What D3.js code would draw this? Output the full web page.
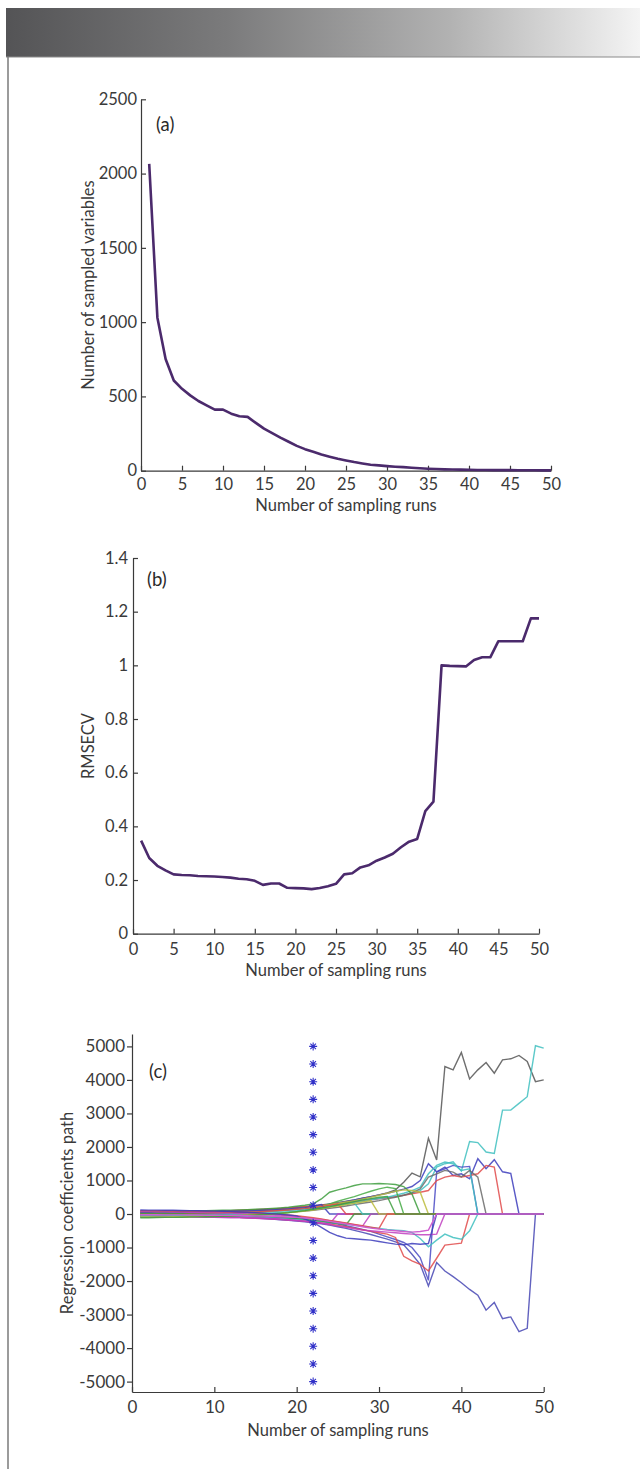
<!DOCTYPE html>
<html>
<head>
<meta charset="utf-8">
<script src="https://cdn.jsdelivr.net/npm/d3@7"></script>
<style>
  body { margin: 0; background: #fff; }
  svg { display: block; font-family: Lato, "Open Sans", sans-serif; }
  .axis path, .axis line { stroke: #3a3a3a; stroke-width: 1.2; }
  .axis text { fill: #3a3a3a; font-family: Lato, "Open Sans", sans-serif; }
  .lbl { fill: #3a3a3a; font-size: 16.5px; }
  .tag { fill: #2a2a2a; font-size: 18.5px; }
</style>
</head>
<body>
<svg id="fig" width="640" height="1469"></svg>
<script>
// sampling run index (x of every panel)
const runs = [1,2,3,4,5,6,7,8,9,10,11,12,13,14,15,16,17,18,19,20,
  21,22,23,24,25,26,27,28,29,30,31,32,33,34,35,36,37,38,39,40,
  41,42,43,44,45,46,47,48,49,50];

// (a) number of sampled variables
const sampledVars = [2065,1030,752,607,551,507,469,440,411,411,
  384,366,362,322,283,253,223,195,167,145,
  127,109,94,80,69,58,49,40,36,31,
  27,24,20,16,13,11,9,8,7,6,
  5,5,4,4,4,3,3,3,2,2];

// (b) RMSECV
const rmsecv = [0.347,0.282,0.253,0.236,0.221,0.219,0.218,0.215,0.214,0.213,
  0.211,0.209,0.205,0.203,0.197,0.182,0.187,0.187,0.171,0.170,
  0.169,0.166,0.170,0.177,0.186,0.221,0.225,0.247,0.255,0.272,
  0.284,0.298,0.322,0.343,0.353,0.457,0.492,1.000,0.998,0.997,
  0.996,1.020,1.030,1.030,1.090,1.090,1.090,1.090,1.175,1.175];

// (c) regression coefficient paths, one array per variable
const pGray1 = [40,45,50,55,55,60,65,70,75,80,85,90,95,105,115,125,140,155,175,195,
  215,240,270,300,340,380,420,470,520,570,630,
  720,950,1220,1110,2260,1610,4400,4300,4820,4030,4300,4520,4200,4600,4630,4730,4550,3950,4000];
const pCyan1 = [-30,-25,-20,-20,-15,-10,-5,0,5,10,15,20,30,40,50,60,75,90,110,130,
  150,180,210,250,290,330,370,410,440,470,500,
  520,560,620,700,900,1400,1500,1560,1280,2160,2130,1850,1810,3100,3100,3300,3500,5020,4950];
const pBlue1 = [20,25,25,30,30,35,40,40,45,50,55,60,70,80,90,100,115,130,150,170,
  190,220,250,290,330,370,420,470,520,570,620,
  680,740,820,1000,1500,1260,1400,1150,1200,1050,1650,1350,1620,1260,1210,0,0,0,0];
const pBlue2 = [-40,-45,-45,-50,-55,-60,-60,-65,-70,-75,-80,-90,-100,-110,-120,-135,-150,-170,-190,-210,
  -230,-260,-290,-330,-380,-430,-490,-550,-610,-680,-750,
  -830,-920,-1200,-1500,-2150,-1450,-1700,-1870,-2050,-2250,-2420,-2870,-2640,-3120,-3070,-3510,-3410,0,0];
const pBlue3 = [-10,-10,-15,-15,-20,-20,-25,-25,-30,-35,-40,-45,-50,-60,-70,-80,-90,-105,-120,-140,
  -160,-190,-220,-260,-300,-350,-400,-460,-520,-600,-680,
  -760,-850,-1000,-1300,-1980,1250,1350,1450,1400,1420,0,0,0,0,0,0,0,0,0];
const pRed1 = [60,60,65,65,70,70,75,80,85,90,95,100,110,120,130,140,150,165,180,200,
  220,240,260,280,300,330,360,390,420,450,480,
  520,560,600,650,700,1000,1100,1150,1100,1150,1200,1450,1400,0,0,0,0,0,0];
const pRed2 = [-60,-60,-60,-65,-65,-70,-70,-75,-80,-85,-90,-95,-100,-110,-120,-130,-140,-155,-170,-190,
  -210,-240,-270,-300,-340,-380,-420,-470,-520,-560,-600,
  -700,-1260,-1400,-1500,-1700,-1320,-930,-900,-870,0,0,0,0,0,0,0,0,0,0];
const pCyan2 = [-20,-20,-25,-25,-30,-30,-35,-40,-45,-50,-55,-60,-65,-75,-85,-95,-110,-125,-140,-160,
  -180,-200,-220,-250,-280,-310,-340,-370,-400,-430,-460,
  -480,-500,-550,-730,-980,-780,-600,-700,-750,-500,0,0,0,0,0,0,0,0,0];
const pCyan3 = [10,10,15,15,20,20,25,30,30,35,40,45,50,55,65,75,85,100,115,130,
  150,170,200,230,260,300,340,380,420,460,500,
  560,620,700,800,1200,1450,1550,1500,1300,1350,0,0,0,0,0,0,0,0,0];
const pGray2 = [-50,-50,-45,-45,-40,-40,-35,-35,-30,-30,-25,-20,-15,-10,0,10,20,35,50,70,
  90,110,140,170,200,240,280,320,360,400,450,
  500,560,640,750,1100,1200,1300,1250,1110,1300,1100,0,0,0,0,0,0,0,0];
const pGreen1 = [80,80,85,85,90,90,95,100,100,105,110,115,120,130,140,150,165,180,200,230,
  260,300,450,650,720,780,850,900,900,910,900,
  880,820,600,0,0,0,0,0,0,0,0,0,0,0,0,0,0,0,0];
const pGreen2 = [-80,-80,-75,-75,-70,-70,-65,-60,-60,-55,-50,-45,-40,-30,-20,-10,0,20,40,70,
  110,160,220,300,380,450,520,600,680,750,800,
  760,0,0,0,0,0,0,0,0,0,0,0,0,0,0,0,0,0,0];
const pOlive1 = [30,30,35,35,40,40,45,45,50,55,60,65,70,75,85,95,105,120,140,160,
  180,210,240,280,320,360,400,450,500,560,620,
  680,720,700,650,0,0,0,0,0,0,0,0,0,0,0,0,0,0,0];
const pMag1 = [-100,-100,-95,-95,-90,-90,-90,-95,-100,-100,-105,-110,-115,-120,-130,-140,-150,-165,-180,-200,
  -220,-250,-280,-320,-360,-400,-440,-480,-500,-520,-540,
  -560,-580,-600,-620,-620,-600,0,0,0,0,0,0,0,0,0,0,0,0,0];
const pBlue4 = [50,50,55,55,60,60,60,65,70,70,75,80,85,90,100,110,120,135,150,170,
  190,230,280,0,0,0,0,0,0,0,0,
  0,0,0,0,0,0,0,0,0,0,0,0,0,0,0,0,0,0,0];
const pMag2 = [-50,-55,-55,-60,-60,-65,-65,-70,-75,-80,-85,-90,-95,-100,-110,-120,-135,-150,-170,-190,
  -210,-240,-270,-300,0,0,0,0,0,0,0,
  0,0,0,0,0,0,0,0,0,0,0,0,0,0,0,0,0,0,0];
const pRed3 = [0,5,5,10,10,15,15,20,25,30,35,40,45,55,65,75,90,105,120,140,
  160,190,220,260,300,0,0,0,0,0,0,
  0,0,0,0,0,0,0,0,0,0,0,0,0,0,0,0,0,0,0];
const pGreen3 = [20,20,15,15,10,10,5,0,-5,-10,-15,-20,-30,-40,-50,-60,-75,-90,-110,-130,
  -150,-180,-210,-240,-280,-320,0,0,0,0,0,
  0,0,0,0,0,0,0,0,0,0,0,0,0,0,0,0,0,0,0];
const pCyan4 = [-60,-60,-55,-55,-50,-50,-45,-40,-35,-30,-25,-20,-10,0,10,20,35,50,70,90,
  110,140,170,210,250,290,330,0,0,0,0,
  0,0,0,0,0,0,0,0,0,0,0,0,0,0,0,0,0,0,0];
const pMag3 = [70,70,65,65,60,55,50,45,40,35,30,25,15,5,-5,-15,-30,-45,-60,-80,
  -100,-130,-160,-200,-240,-280,-320,-360,0,0,0,
  0,0,0,0,0,0,0,0,0,0,0,0,0,0,0,0,0,0,0];
const pOlive2 = [-90,-90,-85,-85,-80,-80,-75,-70,-65,-60,-55,-50,-40,-30,-20,-10,5,20,40,60,
  90,120,160,200,240,280,320,360,400,0,0,
  0,0,0,0,0,0,0,0,0,0,0,0,0,0,0,0,0,0,0];
const pRed4 = [100,100,95,95,90,90,85,80,75,70,65,60,50,40,30,20,5,-10,-30,-50,
  -80,-110,-150,-190,-230,-270,-310,-350,-390,-430,0,
  0,0,0,0,0,0,0,0,0,0,0,0,0,0,0,0,0,0,0];
const pGreen4 = [-110,-110,-105,-100,-100,-95,-90,-85,-80,-75,-70,-60,-50,-40,-30,-15,0,20,40,70,
  100,140,180,220,270,320,370,420,460,500,520,
  0,0,0,0,0,0,0,0,0,0,0,0,0,0,0,0,0,0,0];
const pBlue5 = [120,115,115,110,110,105,100,95,90,85,80,70,60,50,40,25,10,-10,-30,-60,
  -150,-250,-400,-550,-650,-720,-740,-760,-780,-820,-860,
  -900,-920,-880,-900,-880,0,0,0,0,0,0,0,0,0,0,0,0,0,0];
const pMag4 = [-20,-20,-20,-25,-25,-25,-30,-30,-35,-35,-40,-40,-45,-50,-55,-60,-70,-80,-90,-100,
  -120,-150,-180,-220,-260,-300,-340,-380,-420,-450,-480,
  -500,-520,-540,-520,-480,0,0,0,0,0,0,0,0,0,0,0,0,0,0];

const coefSeries = [pGray1, pCyan1, pBlue1, pBlue2, pBlue3, pRed1, pRed2, pCyan2, pCyan3, pGray2,
  pGreen1, pGreen2, pOlive1, pMag1, pBlue4, pMag2, pRed3, pGreen3, pCyan4, pMag3,
  pOlive2, pRed4, pGreen4, pBlue5, pMag4];
const coefColors = ["#555555","#3fbfbf","#3c3cbc","#4646b4","#4a4ac4","#e04a4a","#e04a4a","#3fbfbf","#3fbfbf","#6a6a6a",
  "#3d9e3d","#45aa45","#bcbc3c","#c040c0","#3c3cbc","#c040c0","#e04a4a","#3d9e3d","#3fbfbf","#c040c0",
  "#bcbc3c","#e04a4a","#3d9e3d","#3c3cbc","#d060d0"];

// eliminated-variable marker at the optimal run
const starRun = 22;
const starValues = [5000,4474,3947,3421,2895,2368,1842,1316,789,263,
  -263,-789,-1316,-1842,-2368,-2895,-3421,-3947,-4474,-5000];

const svg = d3.select("#fig");

// header band and left rule
const grad = svg.append("defs").append("linearGradient").attr("id", "band");
grad.append("stop").attr("offset", 0).attr("stop-color", "#545456");
grad.append("stop").attr("offset", 0.35).attr("stop-color", "#7b7b7c");
grad.append("stop").attr("offset", 0.7).attr("stop-color", "#b2b2b2");
grad.append("stop").attr("offset", 1).attr("stop-color", "#f4f4f4");
svg.append("rect").attr("x", 6).attr("y", 8).attr("width", 634).attr("height", 49).attr("fill", "url(#band)");
svg.append("line").attr("x1", 6).attr("x2", 640).attr("y1", 57).attr("y2", 57).attr("stroke", "#8a8a8a").attr("stroke-width", 1);
svg.append("line").attr("x1", 8).attr("x2", 8).attr("y1", 57).attr("y2", 1469).attr("stroke", "#7a7a7a").attr("stroke-width", 1.5);

function axes(x, y, o) {
  const gx = svg.append("g").attr("class", "axis")
    .attr("transform", `translate(0,${y.range()[0]})`)
    .call(d3.axisBottom(x).tickValues(o.xt).tickSize(-5).tickSizeOuter(0).tickPadding(o.xpad).tickFormat(d => String(d)));
  const gy = svg.append("g").attr("class", "axis")
    .attr("transform", `translate(${x.range()[0]},0)`)
    .call(d3.axisLeft(y).tickValues(o.yt).tickSize(o.ytick).tickSizeOuter(0).tickPadding(o.ypad).tickFormat(d => String(d)));
  [gx, gy].forEach(g => g.select(".domain").attr("stroke", "#3a3a3a"));
  gx.selectAll("text").attr("font-size", o.fs);
  gy.selectAll("text").attr("font-size", o.fs);
  svg.append("text").attr("class", "lbl").attr("x", o.xl[0]).attr("y", o.xl[1])
    .attr("text-anchor", "middle").attr("dy", "0.35em").text(o.xlabel);
  svg.append("text").attr("class", "lbl").attr("text-anchor", "middle").attr("dy", "0.35em")
    .attr("transform", `translate(${o.yl[0]},${o.yl[1]}) rotate(-90)`).text(o.ylabel);
  svg.append("text").attr("class", "tag").attr("x", o.tag[0]).attr("y", o.tag[1])
    .attr("dy", "0.35em").text(o.tagText);
}

// (a)
const xA = d3.scaleLinear().domain([0, 50]).range([141, 551]);
const yA = d3.scaleLinear().domain([0, 2500]).range([470.7, 99.3]);
axes(xA, yA, { xt: d3.range(0, 51, 5), yt: d3.range(0, 2501, 500), ytick: -5, xpad: 8, ypad: 4, fs: 16.5,
  xl: [346, 505], yl: [88, 285], tag: [156, 125], tagText: "(a)",
  xlabel: "Number of sampling runs", ylabel: "Number of sampled variables" });
svg.append("path").datum(sampledVars)
  .attr("d", d3.line().x((d, i) => xA(runs[i])).y(d => yA(d)))
  .attr("fill", "none").attr("stroke", "#4b2a6c").attr("stroke-width", 2.6).attr("stroke-linejoin", "round");

// (b)
const xB = d3.scaleLinear().domain([0, 50]).range([133, 539]);
const yB = d3.scaleLinear().domain([0, 1.4]).range([933.7, 558]);
axes(xB, yB, { xt: d3.range(0, 51, 5), yt: [0, 0.2, 0.4, 0.6, 0.8, 1, 1.2, 1.4], ytick: -5, xpad: 10, ypad: 5, fs: 16.5,
  xl: [336, 970], yl: [88, 746], tag: [147, 580], tagText: "(b)",
  xlabel: "Number of sampling runs", ylabel: "RMSECV" });
svg.append("path").datum(rmsecv)
  .attr("d", d3.line().x((d, i) => xB(runs[i])).y(d => yB(d)))
  .attr("fill", "none").attr("stroke", "#4b2a6c").attr("stroke-width", 2.6).attr("stroke-linejoin", "round");

// (c)
const xC = d3.scaleLinear().domain([0, 50]).range([132, 543.7]);
const yC = d3.scaleLinear().domain([-5310, 5370]).range([1392, 1034]);
axes(xC, yC, { xt: d3.range(0, 51, 10), yt: d3.range(-5000, 5001, 1000), ytick: 5, xpad: 9, ypad: 2, fs: 17,
  xl: [338, 1430], yl: [67, 1213], tag: [149, 1072], tagText: "(c)",
  xlabel: "Number of sampling runs", ylabel: "Regression coefficients path" });
const coefLine = d3.line().x((d, i) => xC(runs[i])).y(d => yC(d));
svg.append("g").selectAll("path").data(coefSeries).join("path")
  .attr("d", coefLine)
  .attr("fill", "none")
  .attr("stroke", (d, i) => coefColors[i])
  .attr("stroke-width", 1.4)
  .attr("stroke-opacity", (d, i) => i === coefSeries.length - 1 ? 1 : 0.85);

const r = 4;
const star = `M${-r},0H${r}M0,${-r}V${r}M${-0.7 * r},${-0.7 * r}L${0.7 * r},${0.7 * r}M${-0.7 * r},${0.7 * r}L${0.7 * r},${-0.7 * r}`;
svg.append("g").selectAll("path").data(starValues).join("path")
  .attr("transform", d => `translate(${xC(starRun)},${yC(d)})`)
  .attr("d", star)
  .attr("stroke", "#3030c8").attr("stroke-width", 1.1).attr("fill", "none");
</script>
</body>
</html>
